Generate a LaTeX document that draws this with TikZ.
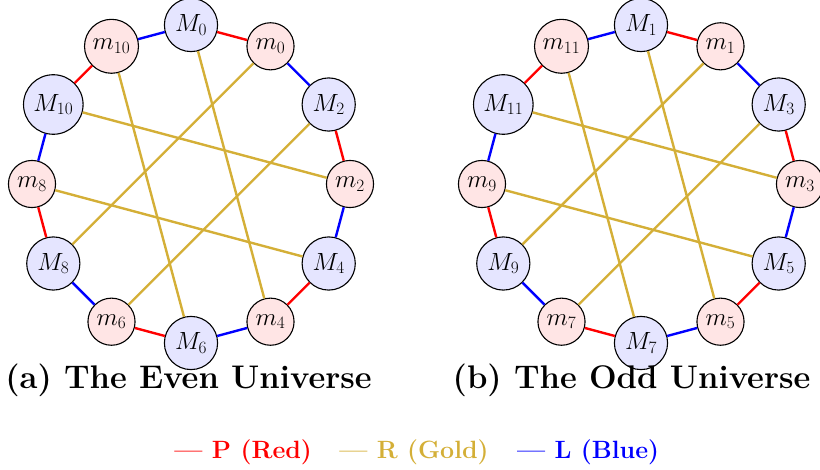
\documentclass[tikz,border=0pt]{standalone}
\usetikzlibrary{positioning}
\definecolor{gold}{RGB}{212,175,55}
\begin{document}
\begin{tikzpicture}[
  x=1pt, y=1pt,
  bignode/.style={circle, draw, line width=1.1pt, fill=blue!10, inner sep=5.4pt, font=\fontsize{24}{28}\selectfont},
  smallnode/.style={circle, draw, line width=1.1pt, fill=red!10, inner sep=5.2pt, font=\fontsize{24}{28}\selectfont},
  pedge/.style={red, line width=2.4pt},
  ledge/.style={blue, line width=2.4pt},
  redge/.style={gold, line width=2.4pt},
  caption/.style={anchor=base, font=\fontsize{32.7}{38}\selectfont\bfseries},
  legend/.style={inner sep=0pt, font=\fontsize{25}{30}\selectfont\bfseries}
]
\useasboundingbox (0,0) rectangle (820,469);

% even universe
\begin{scope}[shift={(191,285)}]
\foreach \k in {0,2,...,10} {
  \node[bignode] (eM\k) at (90-3*\k*10:159) {$M_{\k}$};
  \node[smallnode] (em\k) at (60-3*\k*10:159) {$m_{\k}$};
}
\foreach \k in {0,2,...,10} {
  \pgfmathtruncatemacro\nxt{mod(\k+2,12)}
  \pgfmathtruncatemacro\opp{mod(\k+4,12)}
  \draw[pedge] (eM\k) -- (em\k);
  \draw[ledge] (em\k) -- (eM\nxt);
  \draw[redge] (eM\k) -- (em\opp);
}
\end{scope}

% odd universe
\begin{scope}[shift={(641,285)}]
\foreach \k in {1,3,...,11} {
  \node[bignode] (oM\k) at (120-3*\k*10:159) {$M_{\k}$};
  \node[smallnode] (om\k) at (90-3*\k*10:159) {$m_{\k}$};
}
\foreach \k in {1,3,...,11} {
  \pgfmathtruncatemacro\nxt{mod(\k+2,12)}
  \pgfmathtruncatemacro\opp{mod(\k+4,12)}
  \draw[pedge] (oM\k) -- (om\k);
  \draw[ledge] (om\k) -- (oM\nxt);
  \draw[redge] (oM\k) -- (om\opp);
}
\end{scope}

% captions
\node[caption] (capeven) at (188.5,80) {(a) The Even Universe};
\node[caption] (capodd) at (631.5,80) {(b) The Odd Universe};

% legend
\node[legend, text=gold] (legR) at (414,17) {---\ R (Gold)};
\node[legend, text=red, left=27pt of legR] (legP) {---\ P (Red)};
\node[legend, text=blue, right=28pt of legR] (legL) {---\ L (Blue)};
\end{tikzpicture}
\end{document}
